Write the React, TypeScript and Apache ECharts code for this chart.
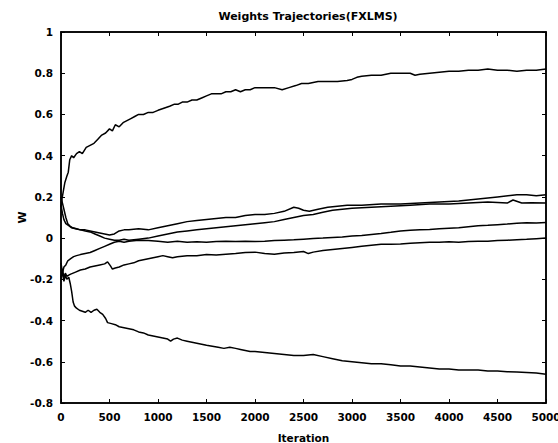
import React, { useEffect, useRef } from "react";
import * as echarts from "echarts";

const TITLE = "Weights Trajectories(FXLMS)";
const X_NAME = "Iteration";
const Y_NAME = "W";

// Weight 1 (rises to ~0.82)
const w1: [number, number][] = [
  [0, 0.15], [10, 0.19], [25, 0.23], [40, 0.27], [60, 0.3], [75, 0.32], [90, 0.38], [110, 0.4], [130, 0.39],
  [160, 0.41], [190, 0.42], [220, 0.41], [260, 0.44], [300, 0.45], [340, 0.46], [380, 0.48], [420, 0.5],
  [460, 0.51], [500, 0.53], [530, 0.52], [560, 0.55], [600, 0.54], [640, 0.56], [680, 0.57], [720, 0.58],
  [760, 0.59], [800, 0.6], [850, 0.6], [900, 0.61], [950, 0.61], [1000, 0.62], [1060, 0.63], [1120, 0.64],
  [1170, 0.65], [1210, 0.65], [1250, 0.66], [1300, 0.66], [1350, 0.67], [1400, 0.67], [1450, 0.68],
  [1500, 0.69], [1550, 0.7], [1600, 0.7], [1650, 0.7], [1700, 0.71], [1750, 0.71], [1800, 0.72],
  [1850, 0.71], [1900, 0.72], [1950, 0.72], [2000, 0.73], [2100, 0.73], [2200, 0.73], [2280, 0.72],
  [2350, 0.73], [2420, 0.74], [2480, 0.75], [2550, 0.75], [2650, 0.76], [2750, 0.76], [2850, 0.76],
  [2950, 0.765], [3000, 0.77], [3050, 0.78], [3100, 0.785], [3200, 0.79], [3300, 0.79], [3400, 0.8],
  [3500, 0.8], [3600, 0.8], [3650, 0.79], [3700, 0.795], [3800, 0.8], [3900, 0.805], [4000, 0.81],
  [4100, 0.81], [4200, 0.815], [4300, 0.815], [4400, 0.82], [4500, 0.815], [4600, 0.815], [4700, 0.81],
  [4800, 0.815], [4900, 0.815], [5000, 0.82],
];

// Weight 2 (ends ~0.21)
const w2: [number, number][] = [
  [0, 0.2], [15, 0.17], [30, 0.14], [50, 0.1], [70, 0.07], [90, 0.06], [120, 0.05], [160, 0.045], [200, 0.04],
  [250, 0.04], [300, 0.035], [350, 0.03], [400, 0.025], [450, 0.02], [500, 0.015], [550, 0.02], [600, 0.035],
  [650, 0.04], [700, 0.04], [800, 0.045], [900, 0.04], [1000, 0.05], [1100, 0.06], [1200, 0.07], [1300, 0.08],
  [1400, 0.085], [1500, 0.09], [1600, 0.095], [1700, 0.1], [1800, 0.1], [1900, 0.11], [2000, 0.115],
  [2100, 0.115], [2200, 0.12], [2300, 0.13], [2400, 0.15], [2450, 0.145], [2500, 0.135], [2560, 0.13],
  [2650, 0.14], [2750, 0.15], [2850, 0.155], [2950, 0.16], [3100, 0.16], [3300, 0.165], [3500, 0.165],
  [3700, 0.17], [3900, 0.175], [4100, 0.18], [4300, 0.19], [4500, 0.2], [4700, 0.21], [4800, 0.21],
  [4900, 0.205], [5000, 0.21],
];

// Weight 3 (ends ~0.17)
const w3: [number, number][] = [
  [0, 0.16], [15, 0.12], [30, 0.09], [50, 0.07], [80, 0.06], [110, 0.05], [150, 0.045], [200, 0.04],
  [250, 0.035], [300, 0.03], [350, 0.02], [400, 0.01], [450, 0.0], [500, -0.005], [550, -0.01], [600, -0.01],
  [650, -0.005], [700, -0.01], [800, -0.005], [900, 0.0], [1000, 0.01], [1100, 0.02], [1200, 0.03],
  [1300, 0.035], [1400, 0.04], [1500, 0.045], [1600, 0.05], [1700, 0.055], [1800, 0.06], [1900, 0.065],
  [2000, 0.07], [2100, 0.075], [2200, 0.08], [2300, 0.09], [2400, 0.1], [2500, 0.11], [2600, 0.115],
  [2700, 0.125], [2800, 0.135], [2900, 0.14], [3000, 0.145], [3200, 0.15], [3400, 0.155], [3600, 0.16],
  [3800, 0.165], [4000, 0.165], [4200, 0.17], [4400, 0.175], [4600, 0.17], [4660, 0.185], [4750, 0.17],
  [4850, 0.172], [5000, 0.17],
];

// Weight 4 (ends ~0.075)
const w4: [number, number][] = [
  [0, -0.12], [15, -0.17], [30, -0.14], [50, -0.13], [70, -0.11], [100, -0.1], [130, -0.09], [160, -0.085],
  [200, -0.08], [250, -0.075], [300, -0.07], [350, -0.06], [400, -0.05], [450, -0.04], [500, -0.03],
  [550, -0.02], [600, -0.015], [650, -0.02], [700, -0.015], [800, -0.01], [900, -0.012], [1000, -0.015],
  [1100, -0.02], [1200, -0.015], [1300, -0.02], [1400, -0.018], [1500, -0.02], [1600, -0.017],
  [1700, -0.015], [1800, -0.017], [1900, -0.015], [2000, -0.017], [2100, -0.015], [2200, -0.012],
  [2300, -0.01], [2400, -0.008], [2500, -0.005], [2600, -0.002], [2700, 0.0], [2800, 0.003], [2900, 0.005],
  [3000, 0.01], [3100, 0.013], [3200, 0.018], [3300, 0.022], [3400, 0.028], [3500, 0.035], [3600, 0.038],
  [3700, 0.04], [3800, 0.042], [3900, 0.045], [4000, 0.048], [4100, 0.05], [4200, 0.055], [4300, 0.06],
  [4400, 0.062], [4500, 0.065], [4600, 0.068], [4700, 0.072], [4800, 0.074], [4900, 0.073], [5000, 0.076],
];

// Weight 5 (ends ~0.0)
const w5: [number, number][] = [
  [0, -0.2], [15, -0.15], [30, -0.19], [45, -0.17], [60, -0.185], [80, -0.18], [100, -0.175], [150, -0.165],
  [200, -0.155], [250, -0.15], [300, -0.14], [350, -0.135], [400, -0.13], [450, -0.125], [480, -0.115],
  [510, -0.135], [530, -0.15], [560, -0.145], [600, -0.14], [650, -0.13], [700, -0.125], [750, -0.12],
  [800, -0.11], [850, -0.105], [900, -0.1], [950, -0.095], [1000, -0.09], [1050, -0.085], [1100, -0.09],
  [1150, -0.095], [1200, -0.09], [1300, -0.085], [1400, -0.085], [1500, -0.08], [1600, -0.082],
  [1700, -0.078], [1800, -0.075], [1900, -0.07], [2000, -0.068], [2100, -0.075], [2200, -0.078],
  [2300, -0.072], [2400, -0.07], [2500, -0.065], [2550, -0.075], [2600, -0.068], [2700, -0.06],
  [2800, -0.055], [2900, -0.05], [3000, -0.045], [3100, -0.04], [3200, -0.035], [3300, -0.03],
  [3400, -0.03], [3500, -0.028], [3600, -0.025], [3700, -0.022], [3800, -0.02], [3900, -0.02],
  [4000, -0.018], [4100, -0.02], [4200, -0.017], [4300, -0.015], [4400, -0.015], [4500, -0.012],
  [4600, -0.01], [4700, -0.008], [4800, -0.006], [4900, -0.003], [5000, 0.0],
];

// Weight 6 (falls to ~-0.66)
const w6: [number, number][] = [
  [0, -0.19], [15, -0.17], [30, -0.21], [45, -0.18], [60, -0.2], [80, -0.19], [95, -0.22], [110, -0.26],
  [125, -0.31], [140, -0.33], [160, -0.34], [190, -0.35], [220, -0.355], [250, -0.36], [280, -0.35],
  [310, -0.36], [340, -0.35], [370, -0.345], [400, -0.36], [430, -0.37], [460, -0.39], [480, -0.41],
  [520, -0.415], [560, -0.42], [600, -0.43], [650, -0.435], [700, -0.44], [750, -0.445], [800, -0.455],
  [850, -0.46], [900, -0.47], [950, -0.475], [1000, -0.48], [1050, -0.485], [1100, -0.49], [1130, -0.5],
  [1160, -0.49], [1200, -0.485], [1250, -0.495], [1300, -0.5], [1350, -0.505], [1400, -0.51],
  [1450, -0.515], [1500, -0.52], [1560, -0.525], [1620, -0.53], [1680, -0.535], [1740, -0.53],
  [1800, -0.535], [1850, -0.54], [1900, -0.545], [1950, -0.55], [2000, -0.55], [2100, -0.555],
  [2200, -0.56], [2300, -0.565], [2400, -0.57], [2500, -0.57], [2600, -0.565], [2700, -0.575],
  [2800, -0.585], [2900, -0.595], [3000, -0.6], [3100, -0.605], [3200, -0.61], [3300, -0.61],
  [3400, -0.615], [3500, -0.62], [3600, -0.62], [3700, -0.625], [3800, -0.63], [3900, -0.635],
  [4000, -0.635], [4100, -0.64], [4200, -0.64], [4300, -0.64], [4400, -0.645], [4500, -0.645],
  [4600, -0.648], [4700, -0.65], [4800, -0.652], [4900, -0.655], [5000, -0.66],
];

const SERIES = [w1, w2, w3, w4, w5, w6];

const FONT = "DejaVu Sans";

export default function App() {
  const ref = useRef<HTMLDivElement>(null);
  useEffect(() => {
    if (!ref.current) return;
    const chart = echarts.init(ref.current, undefined, { renderer: "svg" });
    const tickStyle = { show: true, inside: true, length: 4, lineStyle: { color: "#000", width: 1 } };
    const label = { color: "#000", fontFamily: FONT, fontWeight: "bold" as const, fontSize: 10.5 };
    const line = { show: true, onZero: false, lineStyle: { color: "#000", width: 1.5 } };
    chart.setOption({
      animation: false,
      backgroundColor: "#fff",
      title: {
        text: TITLE,
        left: 303,
        top: 6,
        textAlign: "center",
        textStyle: { color: "#000", fontFamily: FONT, fontWeight: "bold", fontSize: 11 },
      },
      grid: {
        left: 61,
        right: 12,
        top: 32,
        bottom: 40,
        containLabel: false,
        outerBoundsMode: "none",
        show: true,
        borderColor: "#000",
        borderWidth: 1.5,
      },
      xAxis: [
        {
          type: "value",
          min: 0,
          max: 5000,
          interval: 500,
          name: X_NAME,
          nameLocation: "middle",
          nameGap: 29,
          nameMoveOverlap: false,
          nameTextStyle: { ...label },
          axisLine: line,
          axisTick: tickStyle,
          axisLabel: { ...label, margin: 8, formatter: (v: number) => String(v) },
          splitLine: { show: false },
        },
        {
          type: "value",
          position: "top",
          min: 0,
          max: 5000,
          interval: 500,
          axisLine: line,
          axisTick: tickStyle,
          axisLabel: { show: false },
          splitLine: { show: false },
        },
      ],
      yAxis: [
        {
          type: "value",
          min: -0.8,
          max: 1,
          interval: 0.2,
          name: Y_NAME,
          nameLocation: "middle",
          nameGap: 33,
          nameMoveOverlap: false,
          nameTextStyle: { ...label, fontSize: 11 },
          axisLine: line,
          axisTick: tickStyle,
          axisLabel: {
            ...label,
            margin: 8,
            formatter: (v: number) => {
              const r = Math.round(v * 10) / 10;
              return r === 0 ? "0" : String(r);
            },
          },
          splitLine: { show: false },
        },
        {
          type: "value",
          position: "right",
          min: -0.8,
          max: 1,
          interval: 0.2,
          axisLine: line,
          axisTick: tickStyle,
          axisLabel: { show: false },
          splitLine: { show: false },
        },
      ],
      series: SERIES.map((d) => ({
        type: "line",
        xAxisIndex: 0,
        yAxisIndex: 0,
        data: d,
        showSymbol: false,
        symbol: "none",
        lineStyle: { color: "#000", width: 1.5 },
      })),
    });
    return () => chart.dispose();
  }, []);
  return <div ref={ref} style={{ width: 558, height: 443, position: "absolute", left: 0, top: 0 }} />;
}
